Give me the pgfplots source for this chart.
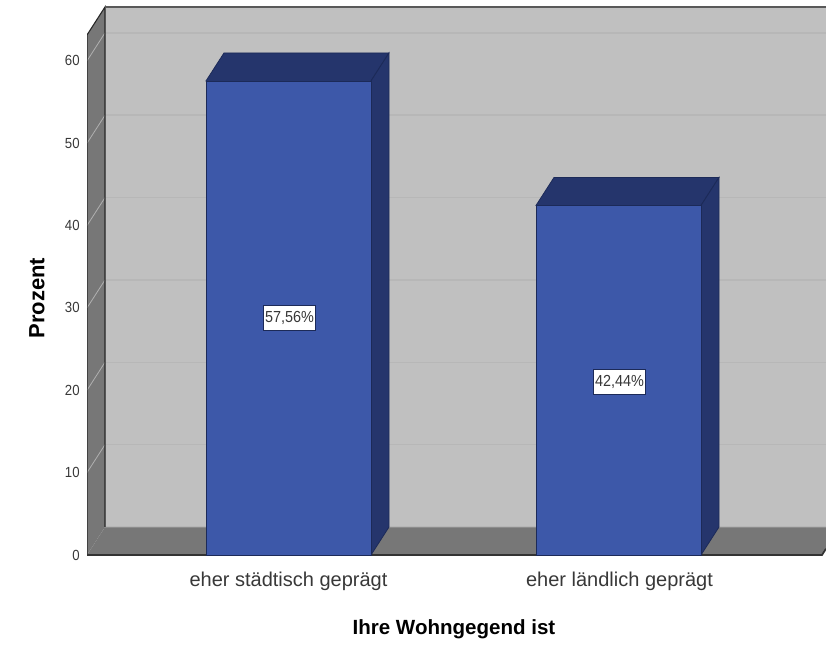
\documentclass[border=0pt]{standalone}
\usepackage{pgfplots}
\pgfplotsset{compat=1.18}
\usepackage{fontspec}
\setmainfont{Liberation Sans}
\newfontfamily\narrow[FakeStretch=0.9]{Liberation Sans}
\newfontfamily\lab[FakeStretch=0.9]{Liberation Sans}
\newfontfamily\boldf{Liberation Sans Bold}
\definecolor{plane}{HTML}{C0C0C0}
\definecolor{wall}{HTML}{777777}
\definecolor{gridc}{HTML}{B7B7B7}
\definecolor{wallgrid}{HTML}{B0B0B0}
\definecolor{barfront}{HTML}{3D58A9}
\definecolor{barside}{HTML}{25356C}
\definecolor{baredge}{HTML}{1C2A58}
\definecolor{txt}{HTML}{383838}
\begin{document}
\begin{tikzpicture}[x=1pt,y=1pt]
\useasboundingbox (0,0) rectangle (619.5pt,483pt);
\begin{axis}[
  at={(65.25pt,66.75pt)},anchor=south west,
  scale only axis,width=554.25pt,height=416.25pt,
  xmin=87,xmax=826,ymin=0,ymax=67.39,
  axis line style={draw=none},
  major tick length=0pt,
  xtick={288.5,619.5},
  xticklabels={eher städtisch geprägt,eher ländlich geprägt},
  ytick={0,10,20,30,40,50,60},
  xticklabel style={font=\fontsize{15}{17}\selectfont,text=txt,yshift=-9.5pt},
  yticklabel style={font=\narrow\fontsize{11}{13}\selectfont,text=txt,xshift=-2pt},
  /pgf/number format/assume math mode=true,
  xlabel={Ihre Wohngegend ist},
  ylabel={Prozent},
  xlabel style={font=\boldf\fontsize{15.4}{17}\selectfont,at={(axis description cs:0.4966,-0.1345)},anchor=center,text=black},
  ylabel style={font=\boldf\fontsize{16.5}{18}\selectfont,at={(axis description cs:-0.0677,0.463)},anchor=center,text=black},
]
% back plane
\addplot[draw=none,fill=plane] coordinates {(105,3.4)(830,3.4)(830,66.54)(105,66.54)} --cycle;
% gridlines on the back plane
\addplot[gridc,line width=1.1pt] coordinates {(105,13.4)(830,13.4)};
\addplot[gridc,line width=1.1pt] coordinates {(105,23.4)(830,23.4)};
\addplot[gridc,line width=1.1pt] coordinates {(105,33.4)(830,33.4)};
\addplot[gridc,line width=1.1pt] coordinates {(105,43.4)(830,43.4)};
\addplot[gridc,line width=1.1pt] coordinates {(105,53.4)(830,53.4)};
\addplot[gridc,line width=1.1pt] coordinates {(105,63.4)(830,63.4)};
% left wall
\addplot[draw=none,fill=wall] coordinates {(87,0)(105,3.4)(105,66.54)(87,63.14)} --cycle;
\addplot[wallgrid,line width=0.6pt] coordinates {(87,10)(105,13.4)};
\addplot[wallgrid,line width=0.6pt] coordinates {(87,20)(105,23.4)};
\addplot[wallgrid,line width=0.6pt] coordinates {(87,30)(105,33.4)};
\addplot[wallgrid,line width=0.6pt] coordinates {(87,40)(105,43.4)};
\addplot[wallgrid,line width=0.6pt] coordinates {(87,50)(105,53.4)};
\addplot[wallgrid,line width=0.6pt] coordinates {(87,60)(105,63.4)};
% floor
\addplot[draw=none,fill=wall] coordinates {(87,0)(105,3.4)(840,3.4)(822,0)} --cycle;
% frame edges
\addplot[black!85,line width=0.8pt] coordinates {(87,0)(87,63.14)(105,66.54)(105,3.4)};
\addplot[black!65,line width=1.6pt] coordinates {(105,66.54)(830,66.54)};
\addplot[black!80,line width=1.3pt] coordinates {(87,0)(822,0)(826,0.76)};
\addplot[black!45,line width=0.5pt] coordinates {(105,3.4)(830,3.4)};
% bar 1 depth faces
\addplot[baredge,line width=0.6pt,fill=barside] coordinates {(206,57.56)(224,60.96)(389,60.96)(371,57.56)} --cycle;
\addplot[baredge,line width=0.6pt,fill=barside] coordinates {(371,0)(389,3.4)(389,60.96)(371,57.56)} --cycle;
% bar 2 depth faces
\addplot[baredge,line width=0.6pt,fill=barside] coordinates {(536,42.44)(554,45.84)(719,45.84)(701,42.44)} --cycle;
\addplot[baredge,line width=0.6pt,fill=barside] coordinates {(701,0)(719,3.4)(719,45.84)(701,42.44)} --cycle;
% bar fronts
\addplot[ybar,bar shift=0pt,bar width=123.75pt,draw=baredge,line width=0.6pt,fill=barfront] coordinates {(288.5,57.56)(618.5,42.44)};
\node[draw=baredge,fill=white,line width=0.8pt,inner sep=0pt,minimum width=38.5pt,minimum height=18.5pt,font=\lab\fontsize{12}{13}\selectfont,text=txt] at (axis cs:289.5,28.78) {57,56\%};
\node[draw=baredge,fill=white,line width=0.8pt,inner sep=0pt,minimum width=38.5pt,minimum height=18.5pt,font=\lab\fontsize{12}{13}\selectfont,text=txt] at (axis cs:619.5,21.0) {42,44\%};
\end{axis}
\end{tikzpicture}
\end{document}
